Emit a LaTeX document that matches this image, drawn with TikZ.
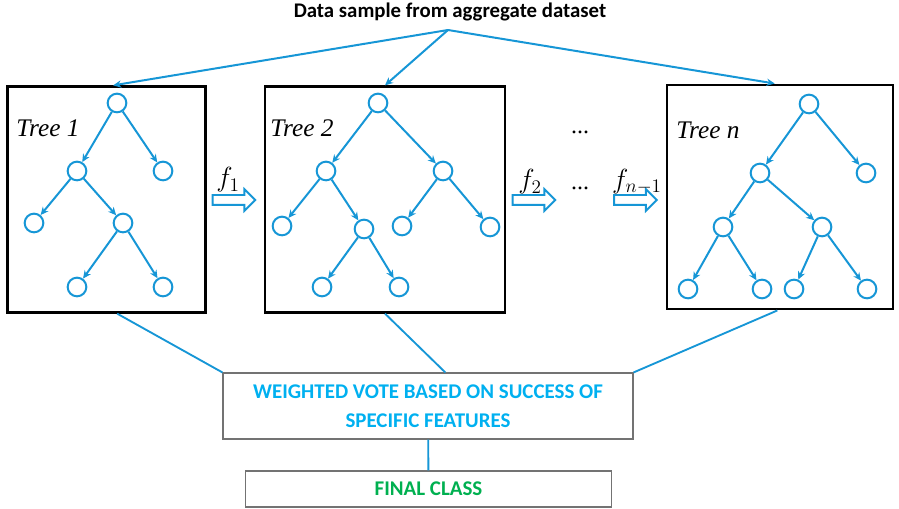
\documentclass[tikz,border=0pt]{standalone}
\usepackage{fontspec}
\setmainfont{Liberation Serif}
\newfontfamily\calib{Carlito}
\usetikzlibrary{arrows.meta}
\usetikzlibrary{shapes.arrows}
\definecolor{treeblue}{RGB}{22,150,214}
\definecolor{voteblue}{RGB}{0,176,240}
\definecolor{classgreen}{RGB}{0,176,80}
\tikzset{
tnode/.style={circle,draw=treeblue,line width=1.5pt,minimum size=14pt,inner sep=0pt},
tedge/.style={draw=treeblue,line width=1.5pt,-{Stealth[length=6pt,width=5.5pt]}},
treebox/.style={draw=black,line width=2.2pt,inner sep=0pt},
treelabel/.style={font=\fontsize{19}{21}\selectfont\itshape},
hollow/.style={single arrow,draw=treeblue,line width=1.4pt,inner sep=3pt,minimum height=32pt,single arrow head extend=4.5pt},
flabel/.style={font=\fontsize{22}{24}\selectfont},
link/.style={draw=treeblue,line width=1.4pt},
textbox/.style={draw=black!55,line width=0.8pt,inner sep=0pt,font=\calib\bfseries\fontsize{15.7}{21.5}\selectfont,align=center}
}
\begin{document}
\begin{tikzpicture}[x=0.75pt,y=-0.75pt]
\useasboundingbox (0,0) rectangle (899,509);

\node[font=\calib\bfseries\fontsize{15.6}{18}\selectfont] (title) at (450,12) {Data sample from aggregate dataset};
\coordinate (src) at (448,30);

\node[treebox,minimum width=149pt,minimum height=169pt] (box1) at (106.5,199.5) {};
\node[treebox,minimum width=180pt,minimum height=169pt] (box2) at (385,199.5) {};
\node[treebox,minimum width=169.5pt,minimum height=168pt] (boxn) at (780,197) {};

\draw[tedge] (src) -- ([xshift=5pt]box1.north);
\draw[tedge] (src) -- (box2.north);
\draw[tedge] (src) -- ([xshift=-4pt]boxn.north);

\node[treelabel] (lab1) at (48,128) {Tree 1};
\node[treelabel] (lab2) at (302,128) {Tree 2};
\node[treelabel] (labn) at (708,130) {Tree n};

\node[tnode] (a0) at (117,103) {};
\node[tnode] (a1) at (77,171) {};
\node[tnode] (a2) at (163,171) {};
\node[tnode] (a3) at (34,223) {};
\node[tnode] (a4) at (123,223) {};
\node[tnode] (a5) at (77,287) {};
\node[tnode] (a6) at (163,287) {};
\draw[tedge] (a0) -- (a1);
\draw[tedge] (a0) -- (a2);
\draw[tedge] (a1) -- (a3);
\draw[tedge] (a1) -- (a4);
\draw[tedge] (a4) -- (a5);
\draw[tedge] (a4) -- (a6);

\node[tnode] (b0) at (378,103) {};
\node[tnode] (b1) at (326,171) {};
\node[tnode] (b2) at (443,171) {};
\node[tnode] (b3) at (282,226) {};
\node[tnode] (b4) at (364,229) {};
\node[tnode] (b5) at (402,226) {};
\node[tnode] (b6) at (490,227) {};
\node[tnode] (b7) at (322,287) {};
\node[tnode] (b8) at (399,287) {};
\draw[tedge] (b0) -- (b1);
\draw[tedge] (b0) -- (b2);
\draw[tedge] (b1) -- (b3);
\draw[tedge] (b1) -- (b4);
\draw[tedge] (b2) -- (b5);
\draw[tedge] (b2) -- (b6);
\draw[tedge] (b4) -- (b7);
\draw[tedge] (b4) -- (b8);

\node[tnode] (c0) at (809,104) {};
\node[tnode] (c1) at (760,173) {};
\node[tnode] (c2) at (866,173) {};
\node[tnode] (c3) at (723,227) {};
\node[tnode] (c4) at (822,227) {};
\node[tnode] (c5) at (688,289) {};
\node[tnode] (c6) at (762,289) {};
\node[tnode] (c7) at (794,289) {};
\node[tnode] (c8) at (867,289) {};
\draw[tedge] (c0) -- (c1);
\draw[tedge] (c0) -- (c2);
\draw[tedge] (c1) -- (c3);
\draw[tedge] (c1) -- (c4);
\draw[tedge] (c3) -- (c5);
\draw[tedge] (c3) -- (c6);
\draw[tedge] (c4) -- (c7);
\draw[tedge] (c4) -- (c8);

\node[hollow] (arr1) at (231.5,200) {};
\node[hollow] (arr2) at (531.5,200) {};
\node[hollow] (arr3) at (633,200) {};
\node[flabel] (f1) at (228,180) {$f_1$};
\node[flabel] (f2) at (530,182) {$f_2$};
\node[flabel] (f3) at (637,182) {$f_{n-1}$};
\node[font=\fontsize{18}{20}\selectfont] (dots1) at (580,132) {...};
\node[font=\fontsize{18}{20}\selectfont] (dots2) at (580,188) {...};

\node[textbox,minimum width=307.5pt,minimum height=49.5pt,text=voteblue] (vote) at (428,406) {WEIGHTED VOTE BASED ON SUCCESS OF\\SPECIFIC FEATURES};
\node[textbox,minimum width=275pt,minimum height=27pt,text=classgreen] (final) at (428.5,489) {FINAL CLASS};

\draw[link] ([xshift=8pt]box1.south) -- (vote.north west);
\draw[link] (box2.south) -- ([xshift=13pt]vote.north);
\draw[link] ([xshift=-2pt]boxn.south) -- (vote.north east);
\draw[link] (vote) -- (final);
\end{tikzpicture}
\end{document}
